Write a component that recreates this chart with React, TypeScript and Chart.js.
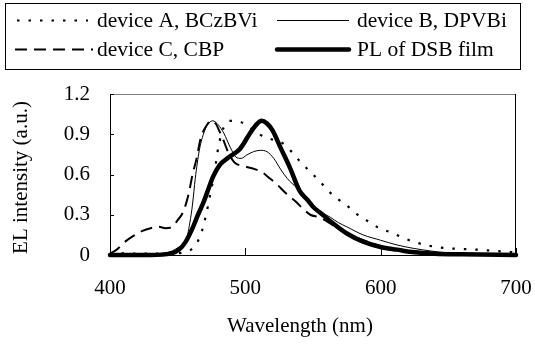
import React, { useEffect, useRef } from "react";
import { Chart, registerables } from "chart.js";

Chart.register(...registerables);

const FONT = "'Liberation Serif', 'Times New Roman', serif";

// device A, BCzBVi (dotted)
const aWavelength = [400, 420, 440, 455, 462, 467, 471, 474, 477, 480, 484, 489, 497, 505, 512, 520, 528, 535, 541, 548, 555, 561, 568, 576, 583, 591, 599, 607, 615, 624, 633, 641, 650, 660, 671, 685, 700];
const aIntensity = [0.015, 0.01, 0.01, 0.02, 0.06, 0.15, 0.3, 0.45, 0.6, 0.8, 0.95, 1.0, 0.99, 0.94, 0.89, 0.86, 0.83, 0.76, 0.69, 0.62, 0.55, 0.48, 0.42, 0.36, 0.3, 0.25, 0.2, 0.17, 0.135, 0.1, 0.075, 0.06, 0.05, 0.045, 0.04, 0.03, 0.02];

// device B, DPVBi (thin solid)
const bWavelength = [400, 430, 440, 446, 451, 456, 459, 461, 463, 466, 469, 472, 476, 480, 484, 489, 493, 497, 501, 506, 511, 516, 521, 526, 531, 538, 544, 550, 556, 563, 569, 575, 587, 600, 612, 624, 637, 650, 670, 700];
const bIntensity = [0, 0.005, 0.015, 0.03, 0.06, 0.1, 0.24, 0.38, 0.57, 0.78, 0.9, 0.97, 1.0, 0.97, 0.91, 0.8, 0.73, 0.72, 0.745, 0.77, 0.78, 0.77, 0.72, 0.64, 0.57, 0.5, 0.43, 0.36, 0.32, 0.28, 0.24, 0.21, 0.15, 0.11, 0.075, 0.05, 0.03, 0.015, 0.008, 0];

// device C, CBP (dashed)
const cWavelength = [400, 405, 410, 417, 424, 430, 436, 441, 446, 450, 454, 458, 461, 464, 467, 471, 475, 478, 481, 484, 488, 492, 500, 507, 512, 517, 523, 530, 537, 543, 548, 555, 565, 577, 590, 602, 614, 626, 640, 660, 700];
const cIntensity = [0.01, 0.04, 0.09, 0.14, 0.18, 0.2, 0.21, 0.2, 0.21, 0.26, 0.32, 0.45, 0.6, 0.72, 0.87, 0.96, 1.0, 0.98, 0.92, 0.85, 0.75, 0.69, 0.66, 0.64, 0.62, 0.58, 0.53, 0.46, 0.4, 0.34, 0.3, 0.28, 0.22, 0.15, 0.1, 0.06, 0.04, 0.025, 0.01, 0.005, 0];

// PL of DSB film (thick solid)
const plWavelength = [400, 430, 445, 451, 456, 461, 465, 469, 473, 476, 481, 488, 496, 503, 508, 512, 516, 520, 526, 533, 540, 546, 550, 556, 563, 575, 587, 600, 612, 625, 640, 660, 700];
const plIntensity = [0, 0, 0.01, 0.04, 0.1, 0.2, 0.3, 0.39, 0.5, 0.58, 0.67, 0.73, 0.79, 0.9, 0.97, 1.0, 0.98, 0.93, 0.8, 0.65, 0.48, 0.41, 0.36, 0.31, 0.25, 0.16, 0.1, 0.06, 0.04, 0.02, 0.01, 0.005, 0];

const seriesLabels = ["device A, BCzBVi", "device B, DPVBi", "device C, CBP", "PL of DSB film"];
const xTicks = [400, 500, 600, 700];
const yTicks = [0, 0.3, 0.6, 0.9, 1.2];
const xTitle = "Wavelength (nm)";
const yTitle = "EL intensity (a.u.)";

const toPoints = (xs: number[], ys: number[]) => xs.map((x, i) => ({ x, y: ys[i] }));

const decorPlugin = {
  id: "decor",
  afterDatasetsDraw(chart: any) {
    const { ctx, chartArea } = chart;
    const { left, right, top, bottom } = chartArea;
    const xs = chart.scales.x;
    const ys = chart.scales.y;
    ctx.save();
    ctx.lineWidth = 1;
    ctx.strokeStyle = "#808080";
    ctx.beginPath();
    ctx.moveTo(left, top + 0.5);
    ctx.lineTo(right, top + 0.5);
    ctx.stroke();
    ctx.strokeStyle = "#000";
    ctx.beginPath();
    ctx.moveTo(left + 0.5, top);
    ctx.lineTo(left + 0.5, bottom + 0.5);
    ctx.lineTo(right - 0.5, bottom + 0.5);
    ctx.lineTo(right - 0.5, top);
    ctx.stroke();
    ctx.beginPath();
    yTicks.forEach((v) => {
      const py = Math.round(ys.getPixelForValue(v)) + 0.5;
      ctx.moveTo(left, py);
      ctx.lineTo(left + 4, py);
    });
    xTicks.forEach((v) => {
      const px = Math.round(xs.getPixelForValue(v)) + 0.5;
      ctx.moveTo(px, bottom);
      ctx.lineTo(px, bottom - 7);
    });
    ctx.stroke();
    ctx.restore();
  },
  afterDraw(chart: any) {
    const { ctx, chartArea } = chart;
    ctx.save();
    ctx.fillStyle = "#000";
    ctx.font = `21px ${FONT}`;
    ctx.textAlign = "center";
    ctx.textBaseline = "middle";
    ctx.fillText(xTitle, 300, 326);
    ctx.save();
    ctx.translate(21, (chartArea.top + chartArea.bottom) / 2 + 3);
    ctx.rotate(-Math.PI / 2);
    ctx.fillText(yTitle, 0, 0);
    ctx.restore();
    ctx.strokeStyle = "#000";
    ctx.lineWidth = 1;
    ctx.strokeRect(5.5, 3.5, 515, 66);
    ctx.font = `21.5px ${FONT}`;
    const slots = [
      { lx: 17, rx: 88, tx: 97, y: 20 },
      { lx: 277, rx: 349, tx: 357, y: 20 },
      { lx: 15, rx: 93, tx: 97, y: 49 },
      { lx: 277, rx: 349, tx: 357, y: 49 },
    ];
    chart.data.datasets.forEach((ds: any, i: number) => {
      const s = slots[i];
      ctx.save();
      ctx.strokeStyle = ds.borderColor;
      ctx.lineWidth = ds.borderWidth;
      ctx.setLineDash(ds.borderDash || []);
      ctx.lineCap = ds.borderCapStyle || "butt";
      ctx.beginPath();
      ctx.moveTo(s.lx, s.y + 0.5);
      ctx.lineTo(s.rx, s.y + 0.5);
      ctx.stroke();
      ctx.restore();
      ctx.textAlign = "left";
      ctx.textBaseline = "middle";
      ctx.fillText(ds.label, s.tx, s.y + 1);
    });
    ctx.restore();
  },
};

export default function App() {
  const ref = useRef<HTMLCanvasElement | null>(null);
  useEffect(() => {
    if (!ref.current) return;
    const chart = new Chart(ref.current, {
      type: "line",
      data: {
        datasets: [
          {
            label: seriesLabels[0],
            data: toPoints(aWavelength, aIntensity),
            borderColor: "#000",
            borderWidth: 2.2,
            borderDash: [2.5, 9],
            pointRadius: 0,
            cubicInterpolationMode: "monotone",
            clip: false,
          },
          {
            label: seriesLabels[1],
            data: toPoints(bWavelength, bIntensity),
            borderColor: "#000",
            borderWidth: 1,
            pointRadius: 0,
            cubicInterpolationMode: "monotone",
            clip: false,
          },
          {
            label: seriesLabels[2],
            data: toPoints(cWavelength, cIntensity),
            borderColor: "#000",
            borderWidth: 2,
            borderDash: [12, 7],
            pointRadius: 0,
            cubicInterpolationMode: "monotone",
            clip: false,
          },
          {
            label: seriesLabels[3],
            data: toPoints(plWavelength, plIntensity),
            borderColor: "#000",
            borderWidth: 4.5,
            borderCapStyle: "round",
            pointRadius: 0,
            cubicInterpolationMode: "monotone",
            clip: false,
          },
        ] as any,
      },
      options: {
        responsive: false,
        animation: false,
        events: [],
        layout: { padding: { top: 94, right: 19, left: 0, bottom: 0 } },
        plugins: { legend: { display: false }, tooltip: { enabled: false } },
        scales: {
          x: {
            type: "linear",
            min: 400,
            max: 700,
            afterBuildTicks: (s: any) => {
              s.ticks = xTicks.map((v) => ({ value: v }));
            },
            afterFit: (s: any) => {
              s.height = 90;
              s.paddingLeft = 0;
              s.paddingRight = 0;
            },
            grid: { display: false, drawTicks: false },
            border: { display: false },
            ticks: {
              font: { family: FONT, size: 21 },
              color: "#000",
              padding: 21,
              maxRotation: 0,
              autoSkip: false,
              callback: (v: any) => String(v),
            },
          },
          y: {
            type: "linear",
            min: 0,
            max: 1.2,
            afterBuildTicks: (s: any) => {
              s.ticks = yTicks.map((v) => ({ value: v }));
            },
            afterFit: (s: any) => {
              s.width = 110;
              s.paddingTop = 0;
              s.paddingBottom = 0;
            },
            grid: { display: false, drawTicks: false },
            border: { display: false },
            ticks: {
              font: { family: FONT, size: 21 },
              color: "#000",
              padding: 20,
              autoSkip: false,
              callback: (v: any) => (v === 0 ? "0" : Number(v).toFixed(1)),
            },
          },
        },
      },
      plugins: [decorPlugin],
    } as any);
    return () => chart.destroy();
  }, []);
  return (
    <div style={{ position: "fixed", left: 0, top: 0, width: 535, height: 345, background: "#fff" }}>
      <canvas ref={ref} width={535} height={345} style={{ display: "block", width: 535, height: 345 }} />
    </div>
  );
}
